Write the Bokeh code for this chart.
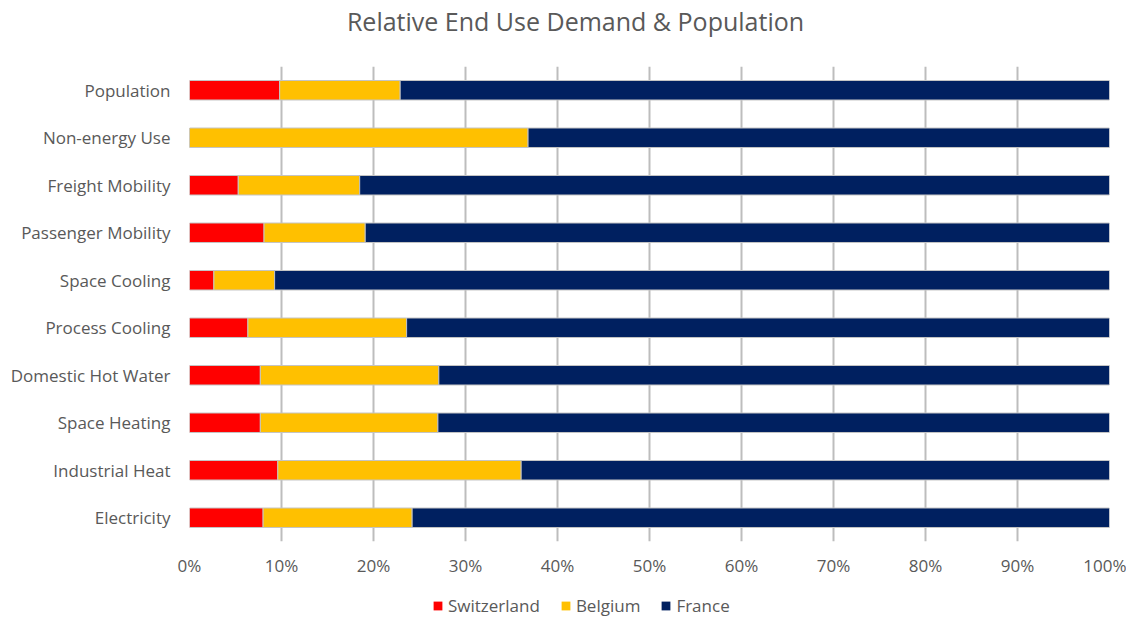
from bokeh.plotting import figure
from bokeh.layouts import column
from bokeh.models import (ColumnDataSource, FactorRange, Legend, LegendItem, Label,
                          PrintfTickFormatter, Range1d)
from bokeh.embed import file_html
from bokeh.resources import INLINE

title_text = "Relative End Use Demand & Population"
categories = ["Population", "Non-energy Use", "Freight Mobility", "Passenger Mobility",
              "Space Cooling", "Process Cooling", "Domestic Hot Water", "Space Heating",
              "Industrial Heat", "Electricity"]
switzerland = [9.8, 0.0, 5.3, 8.1, 2.65, 6.35, 7.7, 7.7, 9.6, 8.0]
belgium = [13.1, 36.8, 13.2, 11.0, 6.6, 17.25, 19.4, 19.3, 26.45, 16.2]
france = [77.1, 63.2, 81.5, 80.9, 90.75, 76.4, 72.9, 73.0, 63.95, 75.8]
series_names = ["Switzerland", "Belgium", "France"]
colors = ["#FF0000", "#FFC000", "#002060"]
x_ticks = [0, 10, 20, 30, 40, 50, 60, 70, 80, 90, 100]

FONT = "Open Sans"
TXT = "#595959"
GRID = "#BDBDBD"
W = 1126

src = ColumnDataSource(dict(cat=categories, Switzerland=switzerland,
                            Belgium=belgium, France=france))

# Title strip
tf = figure(width=W, height=66, output_backend="svg", toolbar_location=None,
            x_range=Range1d(0, 1), y_range=Range1d(0, 1),
            min_border=0, outline_line_color=None)
tf.axis.visible = False
tf.grid.visible = False
tf.add_layout(Label(x=386, y=46, x_units="screen", y_units="screen", text=title_text,
                    text_align="center", text_baseline="alphabetic",
                    text_font=FONT, text_font_size="25px", text_color=TXT))

# Main chart
p = figure(width=W, height=521, output_backend="svg", toolbar_location=None,
           y_range=FactorRange(factors=categories[::-1], range_padding=0),
           x_range=Range1d(0, 100),
           min_border_left=189, min_border_right=17, min_border_top=0,
           min_border_bottom=46)

renderers = p.hbar_stack(series_names, y="cat", height=0.41, color=colors,
                         line_color="#C4C4C4", line_width=1, source=src)

p.outline_line_color = None
p.background_fill_color = "white"
p.border_fill_color = "white"

p.ygrid.grid_line_color = None
p.xgrid.grid_line_color = GRID
p.xgrid.grid_line_width = 2
p.xgrid.ticker = x_ticks

xa = p.xaxis[0]
xa.ticker = x_ticks
xa.formatter = PrintfTickFormatter(format="%d%%")
xa.axis_line_color = None
xa.major_tick_line_color = None
xa.major_tick_out = 0
xa.major_tick_in = 0
xa.minor_tick_line_color = None
xa.major_label_text_font = FONT
xa.major_label_text_font_size = "17px"
xa.major_label_text_color = TXT
xa.major_label_standoff = 12

ya = p.yaxis[0]
ya.axis_line_color = None
ya.major_tick_line_color = None
ya.minor_tick_line_color = None
ya.major_label_text_font = FONT
ya.major_label_text_font_size = "17px"
ya.major_label_text_color = TXT
ya.major_label_standoff = 13

# Legend strip below the chart (its zero-height bars are out of view; only the legend shows)
lg = figure(width=W, height=30, output_backend="svg", toolbar_location=None,
            x_range=Range1d(-1000, -999), y_range=FactorRange(factors=categories[::-1]),
            min_border=0, outline_line_color=None)
lg.axis.visible = False
lg.grid.visible = False
swatches = lg.hbar_stack(series_names, y="cat", height=0, fill_color=colors,
                         line_color=None, source=src)

legend = Legend(items=[LegendItem(label=n, renderers=[r]) for n, r in zip(series_names, swatches)],
                orientation="horizontal", location=(243, 0),
                border_line_color=None, background_fill_alpha=0,
                padding=0, margin=0, spacing=20, label_height=17,
                glyph_width=11, glyph_height=11, label_standoff=5,
                label_text_font=FONT, label_text_font_size="17px",
                label_text_color=TXT)
lg.add_layout(legend, "center")

open("out.html", "w").write(file_html(column(tf, p, lg, spacing=0), INLINE))
